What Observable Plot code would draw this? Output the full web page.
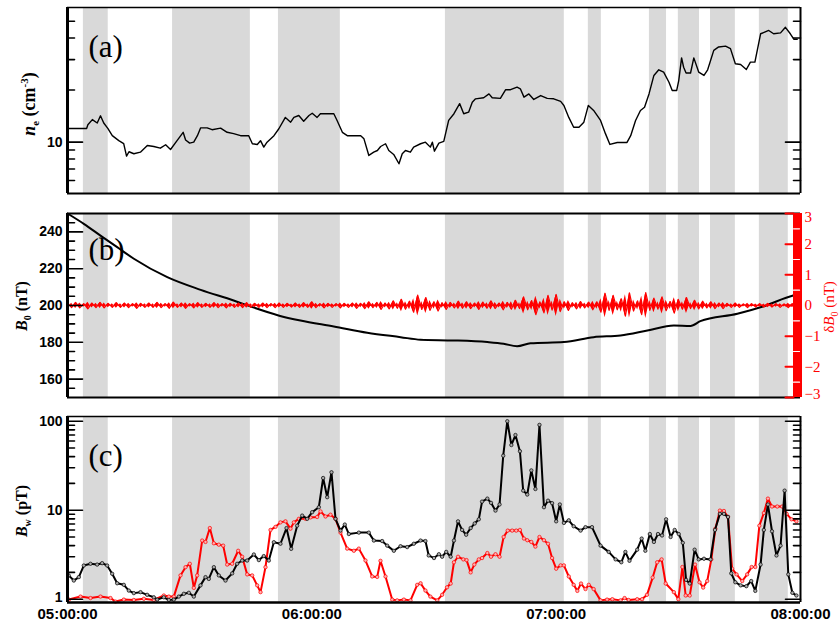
<!DOCTYPE html>
<html><head><meta charset="utf-8">
<script src="https://cdn.jsdelivr.net/npm/d3@7"></script>
<script src="https://cdn.jsdelivr.net/npm/@observablehq/plot@0.6"></script>
<style>
body{margin:0;background:#fff;overflow:hidden}
#chart{width:840px}
#chart svg{display:block}
</style>
</head><body><div id="chart"></div>
<script>
// ---------- data (time in minutes after 05:00:00 UT) ----------
const shades = [[3.9,10.0],[25.8,44.9],[51.8,67.0],[92.8,122.0],[127.9,131.1],[142.9,147.1],[150.0,155.2],[157.9,164.0],[169.9,177.0]];

const ne = [[0,12.0],[4.7,12.0],[5.0,12.6],[6.1,13.5],[7.3,12.9],[8.1,14.2],[8.9,12.9],[9.9,12.0],[11.0,10.9],[12.6,10.2],
[13.8,9.8],[14.5,8.3],[15.1,8.8],[16.3,8.57],[17.9,8.75],[19.6,9.57],[21.2,9.44],[22.8,9.23],[24.1,9.66],[25.3,9.07],
[26.9,10.2],[28.4,11.4],[29.0,10.3],[30.0,9.87],[31.0,10.0],[31.9,10.9],[32.7,12.1],[34.3,12.1],[35.5,11.8],[37.6,12.05],
[39.2,11.4],[40.8,11.2],[42.5,10.9],[44.5,10.9],[45.4,9.79],[46.6,9.7],[47.4,10.2],[48.2,9.36],[49.0,10.0],[50.7,10.9],
[51.9,11.95],[53.5,13.9],[54.8,13.05],[55.6,13.9],[56.8,14.26],[58.0,13.2],[59.3,14.26],[60.1,14.7],[61.3,13.9],[62.1,14.6],
[63.8,14.6],[65.4,14.6],[66.2,13.35],[67.5,11.4],[68.7,10.9],[72.0,10.9],[72.8,10.45],[74.0,8.38],[75.2,8.75],[76.1,8.95],
[76.9,9.44],[78.1,9.79],[78.9,8.95],[80.1,8.49],[81.4,7.5],[82.2,8.57],[83.0,8.95],[84.2,8.75],[85.0,9.36],[86.7,9.79],
[87.9,10.0],[89.1,9.36],[89.6,10.0],[90.1,8.87],[91.2,9.87],[92.4,10.1],[93.6,13.35],[94.9,14.6],[96.3,16.7],[97.3,14.6],
[98.5,14.9],[99.4,17.0],[100.2,17.8],[102.2,18.05],[103.5,19.0],[104.3,18.05],[106.3,17.9],[107.6,20.1],[108.8,20.1],[110.4,20.8],
[111.2,20.35],[112.1,18.2],[113.3,19.0],[114.5,17.65],[116.2,18.6],[117.8,17.9],[119.4,17.8],[121.1,17.2],[121.9,16.3],[123.1,13.9],
[124.3,12.2],[125.6,12.2],[126.8,13.05],[127.9,16.3],[129.2,15.25],[130.9,13.35],[132.1,11.2],[133.2,9.7],[135.0,9.96],[137.4,9.96],
[138.3,10.9],[139.5,13.35],[140.7,15.25],[141.7,15.9],[142.8,19.0],[144.0,24.3],[145.2,26.2],[146.4,25.4],[147.7,22.2],[148.5,19.9],
[149.6,19.9],[150.1,22.7],[150.8,30.7],[151.3,27.1],[151.9,25.1],[153.0,25.1],[153.8,30.7],[155.0,25.4],[156.3,24.3],[157.2,26.2],
[158.7,33.9],[159.9,35.5],[161.6,35.9],[162.8,34.7],[164.0,28.4],[165.3,28.1],[166.7,26.3],[167.7,29.0],[168.8,29.0],[170.2,42.3],
[172.2,44.2],[173.4,42.3],[175.1,42.8],[176.3,46.1],[177.5,42.3],[178.4,39.3],[179.2,39.3]];

const b0 = [[0,250],[4.0,244.4],[8.1,238],[12.2,231.7],[16.3,225.4],[24.5,215.4],[32.7,208.5],[40.8,202.7],[44.9,199.5],[51.8,194.6],
[57.2,191.8],[65.4,188.6],[73.6,185.2],[81.8,182.8],[86.7,181.4],[94.9,181.0],[103.1,180.1],[107.1,179.2],[110.4,177.9],[113.7,179.5],
[121.9,180.1],[129.2,182.8],[135.8,183.7],[142.4,186.4],[148.9,189.1],[153.0,188.9],[155.4,191.5],[164.5,195.5],[171.0,199.6],[178.2,205.4],[180,206.3]];

// delta B0 (nT), one value per minute from 05:00
const dB = [0.09,-0.07,0.10,-0.08,0.06,-0.11,0.08,-0.07,0.10,-0.08,
0.07,-0.06,0.09,-0.06,0.08,-0.07,0.06,-0.09,0.07,-0.06,
0.08,-0.06,0.10,-0.07,0.06,-0.09,0.11,-0.06,0.08,-0.09,
0.06,-0.08,0.09,-0.06,0.07,-0.06,0.09,-0.07,0.06,-0.08,
0.07,-0.06,0.08,-0.07,0.09,-0.06,0.07,-0.06,0.08,-0.07,
0.06,-0.07,0.08,-0.06,0.07,-0.05,0.08,-0.06,0.09,-0.06,
0.12,-0.07,0.06,-0.08,0.07,-0.06,0.06,-0.08,0.07,-0.06,
0.08,-0.09,0.07,-0.10,0.12,-0.07,0.10,-0.13,0.08,-0.11,
0.15,-0.09,0.20,-0.12,0.14,-0.22,0.34,-0.13,0.26,-0.16,
0.12,-0.18,0.09,-0.13,0.10,-0.08,0.14,-0.09,0.12,-0.10,
0.08,-0.13,0.11,-0.09,0.15,-0.10,0.08,-0.14,0.10,-0.12,
0.17,-0.10,0.28,-0.14,0.16,-0.30,0.12,-0.24,0.33,-0.15,
0.36,-0.20,0.12,-0.16,0.09,-0.11,0.13,-0.08,0.11,-0.14,
0.12,-0.22,0.40,-0.16,0.33,-0.14,0.22,-0.35,0.41,-0.18,
0.15,-0.30,0.42,-0.16,0.24,-0.12,0.28,-0.17,0.13,-0.25,
0.20,-0.12,0.26,-0.10,0.17,-0.11,0.14,-0.08,0.12,-0.10,
0.08,-0.10,0.07,-0.06,0.08,-0.06,0.05,-0.07,0.06,-0.05,
0.06,-0.05,0.07,-0.05,0.06,-0.06,0.05,-0.07,0.06,-0.05,0.06];

const bwBlack = [[0.3,1.85],[1.55,1.62],[2.78,1.77],[4.0,2.39],[5.65,2.5],[7.28,2.45],[8.51,2.54],[9.74,2.39],[10.97,1.93],[12.2,1.51],
[13.83,1.45],[15.06,1.25],[16.29,1.17],[17.93,1.2],[19.56,1.12],[21.2,1.05],[22.02,0.99],[23.65,1.05],[24.88,0.98],[26.11,0.99],
[27.34,1.07],[28.57,1.15],[29.8,1.18],[31.02,1.07],[32.66,1.43],[33.89,1.77],[34.7,1.69],[35.94,2.29],[37.16,1.85],[38.8,1.62],
[40.44,1.95],[41.66,2.5],[42.89,2.72],[44.12,2.72],[45.76,3.18],[46.99,2.75],[48.2,3.05],[49.44,2.72],[50.67,4.37],[52.3,4.2],
[53.78,6.3],[54.93,3.68],[56.4,6.7],[57.63,8.7],[58.86,8.0],[60.08,9.5],[61.72,10.8],[62.78,23],[63.77,14],[64.83,26.7],
[65.81,8.0],[67.04,5.9],[68.1,6.9],[69.09,5.4],[71.54,5.6],[73.99,5.6],[75.23,4.56],[77.27,4.5],[78.5,4.0],[80.14,3.5],
[81.78,3.94],[83.41,3.85],[85.05,4.2],[86.69,4.56],[87.9,4.5],[88.7,3.1],[90.0,2.9],[91.2,3.2],[92.0,3.0],[93.0,3.4],
[94.1,3.0],[94.9,4.56],[95.9,7.5],[96.9,6.0],[97.9,5.3],[99.0,6.3],[100.0,7.1],[101.0,7.9],[101.8,12.5],[103.1,13.5],
[104.0,12.1],[105.1,9.9],[106.1,11.6],[107.0,41],[108.0,100],[109.0,54],[110.0,70],[111.1,46],[111.9,16.6],[112.9,15],
[113.9,28],[114.9,17.3],[115.9,91],[117.0,10.8],[118.0,12.8],[119.0,12],[120.0,7.5],[120.9,11.6],[121.9,7.2],[123.1,7.7],
[124.3,6.6],[126.0,5.9],[127.2,6.45],[128.8,6.45],[130.9,4.0],[132.9,3.4],[134.6,2.8],[136.0,2.6],[137.0,3.4],[138.0,2.7],
[139.9,3.6],[141.0,4.8],[141.9,3.5],[143.0,5.4],[144.0,4.4],[145.0,5.4],[146.0,5.2],[147.0,7.9],[148.1,5.0],[149.1,6.0],
[150.1,5.4],[151.1,4.3],[151.9,1.65],[152.8,1.5],[154.0,3.6],[155.0,2.8],[156.3,2.85],[157.9,2.8],[159.0,6.0],[160.2,9.1],
[161.2,9.1],[162.2,8.4],[163.0,1.95],[164.0,1.55],[165.3,1.43],[166.7,1.4],[167.9,1.6],[168.9,1.24],[170.2,2.45],[171.0,6.0],
[172.0,11.6],[173.0,5.8],[174.1,3.1],[175.1,4.0],[176.1,16.6],[177.0,1.9],[178.0,1.18],[179.0,1.1]];

const bwRed = [[0.33,0.99],[3.19,1.07],[5.65,1.03],[8.1,1.07],[10.56,1.03],[11.79,0.94],[13.83,0.99],[16.29,0.98],[18.75,1.01],[21.2,0.98],
[23.65,1.1],[24.88,1.07],[26.11,1.07],[27.75,1.85],[28.98,2.29],[30.04,2.5],[31.02,1.34],[31.84,1.85],[33.07,4.56],[33.89,4.4],
[34.95,6.3],[35.94,4.25],[37.16,4.1],[38.23,4.0],[39.21,2.45],[40.44,2.5],[41.91,3.5],[42.89,3.0],[44.12,1.9],[45.35,1.85],
[46.58,1.43],[47.4,1.2],[48.62,2.29],[49.85,6.0],[51.08,6.5],[52.3,7.3],[53.53,7.5],[54.76,6.2],[55.58,7.3],[56.81,8.0],
[58.45,8.0],[59.67,8.3],[61.31,8.4],[62.13,9.7],[63.36,8.5],[64.58,8.9],[65.81,8.0],[67.04,5.6],[68.68,3.7],[70.32,3.5],
[71.54,3.7],[73.18,2.72],[74.82,1.8],[76.05,1.78],[76.86,2.7],[78.09,1.8],[79.73,0.99],[80.96,0.97],[82.6,0.99],[84.23,0.97],
[85.87,1.45],[86.7,1.51],[87.9,1.25],[89.1,1.07],[90.8,0.97],[92.0,1.12],[93.2,1.36],[94.1,1.5],[94.9,2.6],[95.9,3.0],
[97.2,2.8],[98.0,2.75],[99.0,2.0],[99.9,2.45],[101.0,2.8],[101.8,2.9],[103.1,3.3],[104.0,3.0],[105.1,3.2],[106.1,3.0],
[107.1,5.0],[108.1,5.9],[109.2,5.9],[110.2,5.9],[111.1,6.0],[112.1,4.8],[112.9,4.6],[113.9,4.4],[114.9,3.9],[115.9,5.0],
[117.0,4.6],[118.0,4.2],[119.0,2.9],[120.0,2.2],[121.1,2.4],[121.9,2.4],[123.1,1.8],[124.3,1.45],[125.2,1.24],[126.1,1.5],
[127.2,1.3],[128.0,1.45],[129.2,1.3],[130.9,0.97],[132.5,0.99],[133.8,1.0],[135.8,0.97],[136.8,1.03],[137.8,0.98],[139.9,1.0],
[141.1,1.0],[142.3,1.12],[143.7,1.75],[144.8,2.6],[145.9,2.8],[146.9,1.5],[148.9,1.2],[150.0,1.0],[151.0,2.3],[151.8,1.1],
[152.8,1.1],[154.1,2.45],[155.2,1.55],[156.1,1.35],[157.1,1.6],[158.1,2.8],[159.1,6.2],[160.2,9.9],[161.2,9.8],[162.2,8.4],
[163.2,2.2],[164.3,1.9],[165.7,1.6],[166.9,1.9],[168.0,2.3],[168.9,2.3],[169.9,6.7],[171.0,9.3],[172.0,13.5],[173.0,11],
[174.3,11],[175.5,11],[176.6,9.1],[177.8,7.9],[179.0,7.5]];

// tick values
const neMajor = [10], neMinor = [6,7,8,9,20,30,40,50];
const b0Major = [160,180,200,220,240];
const b0Minor = [155,165,170,175,185,190,195,205,210,215,225,230,235,245];
const dbMajor = [-3,-2,-1,0,1,2,3];
const dbMinor = [-2.5,-1.5,-0.5,0.5,1.5,2.5];
const bwMajor = [1,10,100], bwMinor = [2,3,4,5,6,7,8,9,20,30,40,50,60,70,80,90];
const timeTicks = [0,60,120,180];

// ---------- helpers ----------
const T0 = Date.UTC(2000,0,1,5,0,0);
const t = m => new Date(T0 + m*60000);
const xDomain = [t(0), t(180)];
const GRAY = "#d9d9d9";
const dbToB = 50/3;   // right axis: -3..3 nT  <->  150..250 nT
const tickShape = {draw(ctx, l){ ctx.moveTo(0,0); ctx.lineTo(0,-l); }};
const SANS = "Liberation Sans", SERIF = "Liberation Serif";

function ticks(values, side, len, yf = d=>d, extra = {}) {
  return Plot.vector(values, {y: yf, frameAnchor: side, rotate: side === "left" ? 90 : -90,
    length: len, anchor: "start", shape: tickShape, stroke: "black", strokeWidth: 1.6, ...extra});
}
function yLabels(values, yf = d=>d, extra = {}) {
  return Plot.text(values, {y: yf, text: d=>String(d), frameAnchor: "left", dx: -5, textAnchor: "end",
    fontFamily: SANS, fontSize: 14, fontWeight: "bold", fill: "black", ...extra});
}
function shadeMark() {
  return Plot.rect(shades, {x1: d=>t(d[0]), x2: d=>t(d[1]), fill: GRAY});
}
function panelLabel(s, dy) {
  return Plot.text([s], {text: d=>d, frameAnchor: "top-left", dx: 21, dy, lineAnchor: "bottom",
    textAnchor: "start", fontFamily: SERIF, fontSize: 31, fontWeight: "normal", fill: "black"});
}
function rotLabel(svg, x, y, parts, {fill = "black", weight = "bold", size = 16} = {}) {
  const g = d3.select(svg).append("text")
    .attr("transform", `translate(${x},${y}) rotate(-90)`)
    .attr("text-anchor", "middle").attr("font-family", SERIF)
    .attr("font-size", size).attr("font-weight", weight).attr("fill", fill);
  for (const p of parts) {
    g.append("tspan").text(p.t).attr("dy", p.dy || 0)
      .attr("font-size", p.s || null).attr("font-style", p.i ? "italic" : null);
  }
}
const baseStyle = {background: "transparent", overflow: "visible", fontFamily: SANS};

// ---------- panel (a) ----------
const yA = [5.05, 60];
const pa = Plot.plot({
  width: 840, height: 203, marginTop: 7, marginBottom: 10, marginLeft: 67, marginRight: 40,
  style: baseStyle,
  x: {type: "utc", domain: xDomain, axis: null},
  y: {type: "log", domain: yA, axis: null},
  marks: [
    shadeMark(),
    Plot.line(ne, {x: d=>t(d[0]), y: d=>d[1], stroke: "black", strokeWidth: 1.4}),
    ticks(neMajor, "left", 15), ticks(neMinor, "left", 7),
    ticks(neMajor, "right", 15), ticks(neMinor, "right", 7),
    Plot.ruleY([yA[1]], {stroke: "black", strokeWidth: 1.6}),
    Plot.ruleY([yA[0]], {stroke: "black", strokeWidth: 2}),
    Plot.ruleX([xDomain[0]], {stroke: "black", strokeWidth: 3}),
    Plot.ruleX([xDomain[1]], {stroke: "black", strokeWidth: 2}),
    yLabels(neMajor),
    panelLabel("(a)", 49)
  ]
});
rotLabel(pa, 35, 104, [{t:"n", i:true},{t:"e", dy:4, s:11},{t:" (cm", dy:-4},{t:"-3", dy:-7, s:11},{t:")", dy:7}], {size: 18});

// ---------- panel (b) ----------
const yB = [150, 250];
const dbY = d => 200 + d*dbToB;
const pb = Plot.plot({
  width: 840, height: 204, marginTop: 10, marginBottom: 10, marginLeft: 67, marginRight: 40,
  style: baseStyle,
  x: {type: "utc", domain: xDomain, axis: null},
  y: {domain: yB, axis: null},
  marks: [
    shadeMark(),
    Plot.line(b0, {x: d=>t(d[0]), y: d=>d[1], stroke: "black", strokeWidth: 2, curve: "monotone-x"}),
    Plot.areaY(dB, {x: (d,i)=>t(i), y1: d=>dbY(-d), y2: d=>dbY(d), fill: "red"}),
    Plot.line(dB, {x: (d,i)=>t(i), y: d=>dbY(d), stroke: "red", strokeWidth: 1.2}),
    ticks(b0Major, "left", 15), ticks(b0Minor, "left", 7),
    Plot.ruleY([yB[1]], {stroke: "black", strokeWidth: 2}),
    Plot.ruleY([yB[0]], {stroke: "black", strokeWidth: 2}),
    Plot.ruleX([xDomain[0]], {stroke: "black", strokeWidth: 3}),
    Plot.ruleX([xDomain[1]], {stroke: "red", strokeWidth: 9, dx: -3}),
    ticks(dbMajor, "right", 8, dbY, {stroke: "red", strokeWidth: 2, dx: -7}),
    ticks(dbMinor, "left", 6, dbY, {frameAnchor: "right", stroke: "white", strokeWidth: 1.2, dx: -7}),
    yLabels(b0Major),
    Plot.text(dbMajor.filter(d => Math.abs(d) < 3), {y: dbY, text: d => d < 0 ? "\u2212" + (-d) : String(d),
      frameAnchor: "right", dx: 4, textAnchor: "start", fill: "red", fontFamily: SERIF, fontSize: 15}),
    Plot.text([3], {y: dbY, text: d => String(d), frameAnchor: "right", dx: 4, dy: 4, textAnchor: "start",
      fill: "red", fontFamily: SERIF, fontSize: 15}),
    Plot.text([-3], {y: dbY, text: d => "\u2212" + (-d), frameAnchor: "right", dx: 4, dy: -3, textAnchor: "start",
      fill: "red", fontFamily: SERIF, fontSize: 15}),
    panelLabel("(b)", 46)
  ]
});
rotLabel(pb, 27, 103, [{t:"B", i:true},{t:"0", dy:4, s:10},{t:" (nT)", dy:-4}]);
rotLabel(pb, 834, 104, [{t:"\u03b4"},{t:"B", i:true},{t:"0", dy:4, s:10},{t:" (nT)", dy:-4}], {fill: "red", weight: "normal", size: 15});

// ---------- panel (c) ----------
const yC = [0.918, 113];
const fmt = d3.utcFormat("%H:%M:%S");
const pc = Plot.plot({
  width: 840, height: 220, marginTop: 9, marginBottom: 25, marginLeft: 67, marginRight: 40,
  style: baseStyle,
  x: {type: "utc", domain: xDomain, axis: null},
  y: {type: "log", domain: yC, axis: null},
  marks: [
    shadeMark(),
    Plot.line(bwRed, {x: d=>t(d[0]), y: d=>d[1], stroke: "red", strokeWidth: 2}),
    Plot.dot(bwRed, {x: d=>t(d[0]), y: d=>d[1], r: 1.7, fill: "#ffb0b0", stroke: "red", strokeWidth: 0.7}),
    Plot.line(bwBlack, {x: d=>t(d[0]), y: d=>d[1], stroke: "black", strokeWidth: 2}),
    Plot.dot(bwBlack, {x: d=>t(d[0]), y: d=>d[1], r: 1.7, fill: "#aaaaaa", stroke: "black", strokeWidth: 0.7}),
    ticks(bwMajor, "left", 15), ticks(bwMinor, "left", 7),
    ticks(bwMajor, "right", 15), ticks(bwMinor, "right", 7),
    Plot.ruleY([yC[1]], {stroke: "black", strokeWidth: 1.6}),
    Plot.ruleY([yC[0]], {stroke: "black", strokeWidth: 2.5}),
    Plot.ruleX([xDomain[0]], {stroke: "black", strokeWidth: 3}),
    Plot.ruleX([xDomain[1]], {stroke: "black", strokeWidth: 2}),
    yLabels(bwMajor.filter(d => d > 1)),
    yLabels([1], d=>d, {dy: -2}),
    Plot.text(timeTicks, {x: d=>t(d), text: d=>fmt(t(d)), frameAnchor: "bottom", dy: 16,
      fontFamily: SANS, fontSize: 15, fontWeight: "bold", fill: "black"}),
    panelLabel("(c)", 49)
  ]
});
rotLabel(pc, 27, 104, [{t:"B", i:true},{t:"w", dy:4, s:10},{t:" (pT)", dy:-4}]);

const chart = document.getElementById("chart");
chart.append(pa, pb, pc);
</script>
</body></html>
